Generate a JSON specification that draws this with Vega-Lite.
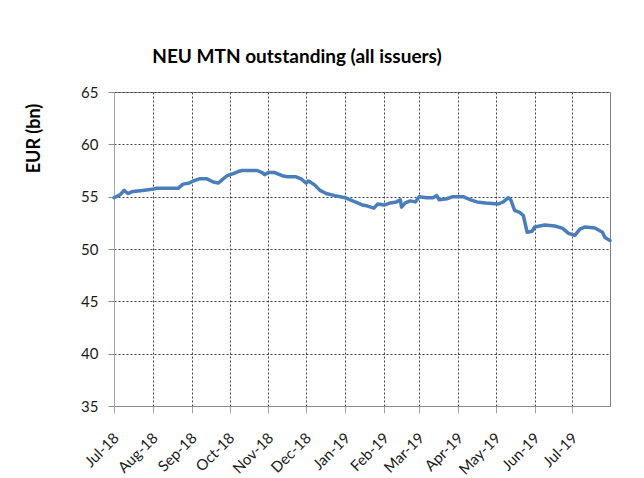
{
  "$schema": "https://vega.github.io/schema/vega-lite/v6.json",
  "autosize": "none",
  "width": 496,
  "height": 314,
  "padding": {"left": 114, "top": 92, "right": 34, "bottom": 72},
  "background": "white",
  "title": {
    "text": "NEU MTN outstanding (all issuers)",
    "font": "Lato",
    "fontSize": 19,
    "fontWeight": "bold",
    "color": "#000000",
    "anchor": "middle",
    "dx": -65,
    "baseline": "alphabetic",
    "offset": 3
  },
  "data": {
    "values": [
      {"date": "2018-07-01", "v": 54.9},
      {"date": "2018-07-06", "v": 55.2},
      {"date": "2018-07-09", "v": 55.6},
      {"date": "2018-07-12", "v": 55.3},
      {"date": "2018-07-16", "v": 55.5},
      {"date": "2018-07-24", "v": 55.6},
      {"date": "2018-07-31", "v": 55.7},
      {"date": "2018-08-04", "v": 55.8},
      {"date": "2018-08-21", "v": 55.8},
      {"date": "2018-08-25", "v": 56.2},
      {"date": "2018-08-30", "v": 56.3},
      {"date": "2018-09-02", "v": 56.5},
      {"date": "2018-09-07", "v": 56.7},
      {"date": "2018-09-13", "v": 56.7},
      {"date": "2018-09-18", "v": 56.4},
      {"date": "2018-09-22", "v": 56.3},
      {"date": "2018-09-26", "v": 56.7},
      {"date": "2018-09-29", "v": 57.0},
      {"date": "2018-10-04", "v": 57.2},
      {"date": "2018-10-08", "v": 57.4},
      {"date": "2018-10-11", "v": 57.5},
      {"date": "2018-10-23", "v": 57.5},
      {"date": "2018-10-27", "v": 57.3},
      {"date": "2018-10-29", "v": 57.1},
      {"date": "2018-11-01", "v": 57.3},
      {"date": "2018-11-06", "v": 57.3},
      {"date": "2018-11-12", "v": 57.0},
      {"date": "2018-11-16", "v": 56.9},
      {"date": "2018-11-23", "v": 56.9},
      {"date": "2018-11-27", "v": 56.7},
      {"date": "2018-12-01", "v": 56.3},
      {"date": "2018-12-03", "v": 56.5},
      {"date": "2018-12-08", "v": 56.1},
      {"date": "2018-12-12", "v": 55.6},
      {"date": "2018-12-17", "v": 55.3},
      {"date": "2018-12-24", "v": 55.1},
      {"date": "2019-01-01", "v": 54.9},
      {"date": "2019-01-07", "v": 54.6},
      {"date": "2019-01-11", "v": 54.4},
      {"date": "2019-01-15", "v": 54.2},
      {"date": "2019-01-19", "v": 54.1},
      {"date": "2019-01-24", "v": 53.9},
      {"date": "2019-01-27", "v": 54.3},
      {"date": "2019-02-01", "v": 54.2},
      {"date": "2019-02-06", "v": 54.4},
      {"date": "2019-02-11", "v": 54.5},
      {"date": "2019-02-14", "v": 54.7},
      {"date": "2019-02-15", "v": 54.0},
      {"date": "2019-02-18", "v": 54.4},
      {"date": "2019-02-22", "v": 54.6},
      {"date": "2019-02-26", "v": 54.5},
      {"date": "2019-03-01", "v": 55.0},
      {"date": "2019-03-07", "v": 54.9},
      {"date": "2019-03-12", "v": 54.9},
      {"date": "2019-03-15", "v": 55.1},
      {"date": "2019-03-17", "v": 54.7},
      {"date": "2019-03-23", "v": 54.8},
      {"date": "2019-03-28", "v": 55.0},
      {"date": "2019-04-05", "v": 55.0},
      {"date": "2019-04-11", "v": 54.7},
      {"date": "2019-04-16", "v": 54.5},
      {"date": "2019-04-23", "v": 54.4},
      {"date": "2019-05-03", "v": 54.3},
      {"date": "2019-05-07", "v": 54.5},
      {"date": "2019-05-11", "v": 54.9},
      {"date": "2019-05-13", "v": 54.7},
      {"date": "2019-05-16", "v": 53.7},
      {"date": "2019-05-20", "v": 53.5},
      {"date": "2019-05-23", "v": 53.2},
      {"date": "2019-05-26", "v": 51.6},
      {"date": "2019-05-30", "v": 51.7},
      {"date": "2019-06-01", "v": 52.1},
      {"date": "2019-06-09", "v": 52.3},
      {"date": "2019-06-17", "v": 52.2},
      {"date": "2019-06-23", "v": 52.0},
      {"date": "2019-06-28", "v": 51.5},
      {"date": "2019-07-03", "v": 51.3},
      {"date": "2019-07-07", "v": 51.9},
      {"date": "2019-07-11", "v": 52.1},
      {"date": "2019-07-19", "v": 52.0},
      {"date": "2019-07-25", "v": 51.6},
      {"date": "2019-07-27", "v": 51.1},
      {"date": "2019-07-31", "v": 50.8}
    ],
    "format": {"parse": {"date": "utc:'%Y-%m-%d'"}}
  },
  "mark": {"type": "line", "color": "#4a7ebb", "strokeWidth": 3.5, "strokeJoin": "round", "strokeCap": "round"},
  "encoding": {
    "x": {
      "field": "date",
      "type": "temporal",
      "scale": {
        "type": "utc",
        "domain": [
          {"year": 2018, "month": 7, "date": 1, "utc": true},
          {"year": 2019, "month": 7, "date": 31, "utc": true}
        ]
      },
      "axis": {
        "title": null,
        "tickCount": {"interval": "month", "step": 1},
        "labelExpr": "utcFormat(datum.value, '%b-%y')",
        "labelAngle": -45,
        "labelAlign": "right",
        "labelBaseline": "top",
        "labelPadding": 17,
        "labelOffset": -3,
        "labelFont": "Lato",
        "labelFontSize": 15,
        "labelColor": "#1a1a1a",
        "labelOverlap": false,
        "grid": true,
        "gridColor": "#444444",
        "gridDash": [2, 2],
        "gridWidth": 1,
        "domainColor": "#8c8c8c",
        "tickColor": "#a6a6a6",
        "tickSize": 7
      }
    },
    "y": {
      "field": "v",
      "type": "quantitative",
      "scale": {"domain": [35, 65], "zero": false, "nice": false},
      "axis": {
        "title": "EUR (bn)",
        "titleFont": "Lato",
        "titleFontSize": 18,
        "titleFontWeight": "bold",
        "titleColor": "#000000",
        "titleX": -80,
        "titleY": 46,
        "titleAngle": -90,
        "titleAlign": "center",
        "titleBaseline": "middle",
        "values": [35, 40, 45, 50, 55, 60, 65],
        "labelFont": "Lato",
        "labelFontSize": 15,
        "labelColor": "#1a1a1a",
        "labelPadding": 10,
        "grid": true,
        "gridColor": "#444444",
        "gridDash": [2, 2],
        "gridWidth": 1,
        "domainColor": "#a6a6a6",
        "tickColor": "#8c8c8c",
        "tickSize": 6
      }
    }
  },
  "config": {
    "view": {"stroke": "#7f7f7f", "strokeWidth": 1}
  }
}
